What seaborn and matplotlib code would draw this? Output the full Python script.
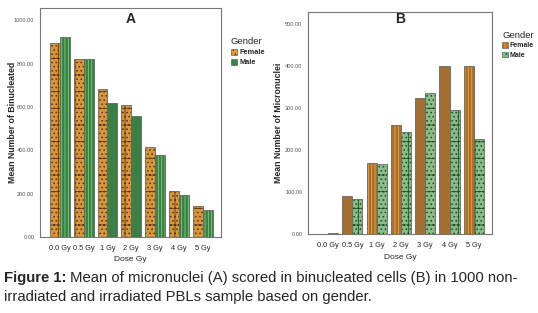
import pandas as pd
import matplotlib
matplotlib.use("Agg")
import matplotlib.pyplot as plt
import seaborn as sns
from matplotlib.colors import to_rgba
from matplotlib.patches import Patch

doses = ["0.0 Gy", "0.5 Gy", "1 Gy", "2 Gy", "3 Gy", "4 Gy", "5 Gy"]
genders = ["Female", "Male"]

# panel A: mean number of binucleated cells
binuc_female = [895, 821, 683, 609, 415, 212, 143]
binuc_male = [923, 821, 618, 558, 378, 194, 125]

# panel B: mean number of micronuclei
micro_female = [1, 90, 169, 259, 324, 400, 400]
micro_male = [2, 83, 167, 243, 336, 295, 226]

# bar pattern per dose (SPSS output mixes fills)
binuc_male_striped = [True, True, False, False, True, True, True]
micro_female_striped = [False, False, True, True, False, False, True]

sns.set_style("white")
plt.rcParams["font.family"] = ["Liberation Sans", "DejaVu Sans"]
plt.rcParams["hatch.linewidth"] = 0.6

DOTS = "+...."
STRIPES = "|||||"


def set_hatch_color(p, c):
    if hasattr(p, "set_hatchcolor"):
        p.set_hatchcolor(c)
    else:
        p._hatch_color = to_rgba(c)


def make_df(female, male):
    return pd.DataFrame({
        "Dose": doses * 2,
        "Gender": ["Female"] * len(doses) + ["Male"] * len(doses),
        "Value": list(female) + list(male),
    })


def style_axes(ax, ymax, yticks, ylabel, title, label_x, title_y):
    ax.set_xlim(-0.83, 6.75)
    ax.set_ylim(0, ymax)
    ax.set_yticks(yticks)
    ax.set_yticklabels([f"{t:.2f}" for t in yticks], fontsize=4.1, color="#555555")
    ax.set_xticks(range(len(doses)))
    ax.set_xticklabels(doses, fontsize=5.3, color="#222222")
    ax.tick_params(axis="both", length=2, width=0.5, color="#555555", pad=2, direction="out")
    ax.tick_params(axis="x", pad=4)
    ax.set_xlabel("Dose Gy", fontsize=6, labelpad=3)
    ax.set_ylabel(ylabel, fontsize=6.3, fontweight="bold")
    ax.yaxis.set_label_coords(label_x, 0.5)
    for s in ax.spines.values():
        s.set_color("#777777")
        s.set_linewidth(0.8)
    ax.text(0.5, title_y, title, transform=ax.transAxes, ha="center", va="top",
            fontsize=10, fontweight="bold")


def add_legend(ax, handles, y_top, size):
    leg = ax.legend(handles, genders, title="Gender", loc="upper left",
                    bbox_to_anchor=(1.04, y_top), frameon=False, fontsize=size,
                    title_fontsize=6.8, handlelength=0.8, handleheight=0.9,
                    handletextpad=0.3, labelspacing=0.35, borderaxespad=0)
    for t in leg.get_texts():
        t.set_fontweight("bold")
    leg._legend_box.align = "left"


fig = plt.figure(figsize=(5.38, 3.13), dpi=100)
ax_a = fig.add_axes([0.0743, 0.243, 0.336, 0.732])
ax_b = fig.add_axes([0.5725, 0.252, 0.342, 0.709])

# ---- A ----
orange = "#F39A1E"
green = "#2E8B3C"
sns.barplot(data=make_df(binuc_female, binuc_male), x="Dose", y="Value", hue="Gender",
            hue_order=genders, order=doses, palette=[orange, green], width=0.83,
            edgecolor="#666666", linewidth=0.6, ax=ax_a, legend=False)
for p in ax_a.containers[0]:
    p.set_hatch(DOTS)
    set_hatch_color(p, "#5a3510")
for p, striped in zip(ax_a.containers[1], binuc_male_striped):
    if striped:
        p.set_hatch(STRIPES)
        set_hatch_color(p, "#7FD47F")
style_axes(ax_a, 1057, [0, 200, 400, 600, 800, 1000], "Mean Number of Binucleated", "A",
           -0.127, 0.983)

h_f = Patch(facecolor=orange, edgecolor="#666666", hatch=DOTS, linewidth=0.5)
h_m = Patch(facecolor=green, edgecolor="#666666", linewidth=0.5)
set_hatch_color(h_f, "#5a3510")
add_legend(ax_a, [h_f, h_m], 0.885, 5.3)

# ---- B ----
brown = "#B8701F"
light_green = "#7DC680"
sns.barplot(data=make_df(micro_female, micro_male), x="Dose", y="Value", hue="Gender",
            hue_order=genders, order=doses, palette=[brown, light_green], width=0.83,
            edgecolor="#666666", linewidth=0.6, ax=ax_b, legend=False)
for p, striped in zip(ax_b.containers[0], micro_female_striped):
    if striped:
        p.set_hatch(STRIPES)
        set_hatch_color(p, "#FFA62A")
for p in ax_b.containers[1]:
    p.set_hatch(DOTS)
    set_hatch_color(p, "#1f4a22")
style_axes(ax_b, 528, [0, 100, 200, 300, 400, 500], "Mean Number of Micronuclei", "B",
           -0.135, 1.0)

h_f = Patch(facecolor=brown, edgecolor="#666666", hatch=STRIPES, linewidth=0.5)
h_m = Patch(facecolor=light_green, edgecolor="#666666", hatch=DOTS, linewidth=0.5)
set_hatch_color(h_f, "#FFA62A")
set_hatch_color(h_m, "#1f4a22")
add_legend(ax_b, [h_f, h_m], 0.93, 5.0)

# ---- caption ----
cap_size = 10.7
bold = fig.text(0.008, 0.099, "Figure 1:", fontsize=cap_size, fontweight="bold",
                ha="left", va="baseline")
fig.canvas.draw()
bb = bold.get_window_extent()
x_next = (bb.x1 + 3) / fig.bbox.width
fig.text(x_next, 0.099, "Mean of micronuclei (A) scored in binucleated cells (B) in 1000 non-",
         fontsize=cap_size, ha="left", va="baseline")
fig.text(0.008, 0.038, "irradiated and irradiated PBLs sample based on gender.",
         fontsize=cap_size, ha="left", va="baseline")

fig.savefig("out.png", dpi=100, facecolor="white")
